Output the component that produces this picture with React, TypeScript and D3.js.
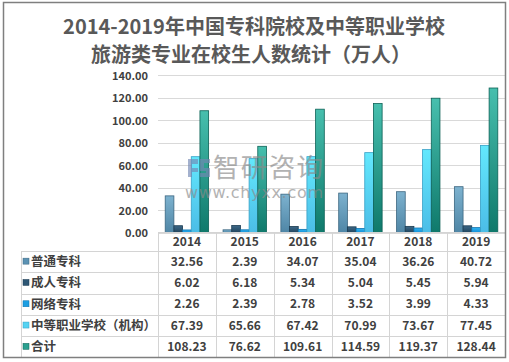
import React, { useEffect, useRef } from 'react';
import * as d3 from 'd3';

// chart data
const years = ['2014', '2015', '2016', '2017', '2018', '2019'];
const seriesNames = ['普通专科', '成人专科', '网络专科', '中等职业学校（机构）', '合计'];
const putong = [32.56, 2.39, 34.07, 35.04, 36.26, 40.72];
const chengren = [6.02, 6.18, 5.34, 5.04, 5.45, 5.94];
const wangluo = [2.26, 2.39, 2.78, 3.52, 3.99, 4.33];
const zhongzhi = [67.39, 65.66, 67.42, 70.99, 73.67, 77.45];
const heji = [108.23, 76.62, 109.61, 114.59, 119.37, 128.44];
const yTicks = [0, 20, 40, 60, 80, 100, 120, 140];

const seriesValues = [putong, chengren, wangluo, zhongzhi, heji];

// top colour, bottom colour, outline, legend key
const palette = [
  ['#7db2cf', '#4f86a6', '#3b6680', '#5b92b3'],
  ['#3d6888', '#22465e', '#1a3a50', '#2d5674'],
  ['#33b4f2', '#1490d6', '#0e72ad', '#1c9ee2'],
  ['#63e8fd', '#4bbde7', '#37a0c6', '#55d3f2'],
  ['#47bfae', '#0f796b', '#0c6156', '#2aa08f'],
];

const W = 509;
const H = 362;
const font = '"Noto Sans CJK SC", "Liberation Sans", sans-serif';

export default function App() {
  const svgRef = useRef<SVGSVGElement>(null);

  useEffect(() => {
    const svg = d3.select(svgRef.current);
    svg.selectAll('*').remove();

    const left = 158;
    const right = 505;
    const tableLeft = 21;
    const y0 = 232.5;

    const x = d3.scaleBand().domain(years).range([left, right]).paddingInner(0).paddingOuter(0);
    const xSub = d3.scaleBand().domain(seriesNames).range([0, x.bandwidth()]).paddingInner(0).paddingOuter(0.83);
    const y = d3.scaleLinear().domain([0, 140]).range([y0, 75]);
    const rowY = d3.scaleBand().domain(seriesNames).range([251, 357.5]);

    // gradients
    const defs = svg.append('defs');
    palette.forEach((p, i) => {
      const g = defs.append('linearGradient')
        .attr('id', 'grad' + i)
        .attr('x1', 0).attr('y1', 0).attr('x2', 0).attr('y2', 1);
      g.append('stop').attr('offset', '0%').attr('stop-color', p[0]);
      g.append('stop').attr('offset', '100%').attr('stop-color', p[1]);
    });

    svg.append('rect').attr('width', W).attr('height', H).attr('fill', '#fff');

    // title
    const title = svg.append('g')
      .attr('font-family', font)
      .attr('font-weight', 'bold')
      .attr('font-size', 20)
      .attr('fill', '#595959')
      .attr('text-anchor', 'middle');
    title.append('text').attr('x', 254).attr('y', 34).text('2014-2019年中国专科院校及中等职业学校');
    title.append('text').attr('x', 251).attr('y', 62).text('旅游类专业在校生人数统计（万人）');

    // gridlines
    svg.append('g')
      .selectAll('line')
      .data(yTicks)
      .join('line')
      .attr('x1', left).attr('x2', right)
      .attr('y1', d => Math.round(y(d)) + 0.5)
      .attr('y2', d => Math.round(y(d)) + 0.5)
      .attr('stroke', '#d9d9d9');

    // y axis labels
    svg.append('g')
      .attr('font-family', font)
      .attr('font-size', 11)
      .attr('font-weight', 'bold')
      .attr('fill', '#404040')
      .attr('text-anchor', 'end')
      .selectAll('text')
      .data(yTicks)
      .join('text')
      .attr('x', 148)
      .attr('y', d => y(d) + 1)
      .attr('dy', '0.35em')
      .text(d => d3.format('.2f')(d));

    // bars
    const groups = svg.append('g')
      .selectAll('g')
      .data(seriesNames)
      .join('g')
      .attr('fill', (d, i) => `url(#grad${i})`)
      .attr('stroke', (d, i) => palette[i][2])
      .attr('stroke-width', 0.8);
    groups.selectAll('rect')
      .data((name, i) => seriesValues[i].map((v, j) => ({ name, v, year: years[j] })))
      .join('rect')
      .attr('x', d => (x(d.year) as number) + (xSub(d.name) as number))
      .attr('y', d => y(d.v))
      .attr('width', xSub.bandwidth())
      .attr('height', d => y0 - y(d.v));

    // watermark
    const wm = svg.append('g').attr('opacity', 0.65);
    wm.append('path')
      .attr('d', 'M188,159h10v5h-6v4h6v4h-6v5h-4z M200,159h10v4h-6v5h6v9h-10v-4h6v-2h-6z')
      .attr('fill', '#7488b4');
    wm.append('text')
      .attr('x', 213).attr('y', 177)
      .attr('font-family', font)
      .attr('font-size', 26.5)
      .attr('fill', '#8a8a8a')
      .attr('textLength', 110)
      .text('智研咨询');
    wm.append('text')
      .attr('x', 185).attr('y', 198)
      .attr('font-family', '"DejaVu Sans", sans-serif')
      .attr('font-size', 16)
      .attr('fill', '#8a8a8a')
      .attr('textLength', 138)
      .attr('lengthAdjust', 'spacing')
      .text('www.chyxx.com');

    // data table
    const table = svg.append('g').attr('stroke', '#d4d4d4').attr('stroke-width', 1);
    table.selectAll('.hline')
      .data(seriesNames)
      .join('line')
      .attr('x1', tableLeft).attr('x2', right)
      .attr('y1', d => Math.round(rowY(d) as number) + 0.5)
      .attr('y2', d => Math.round(rowY(d) as number) + 0.5);
    table.append('line')
      .attr('x1', left).attr('x2', right)
      .attr('y1', y0).attr('y2', y0);
    table.append('line')
      .attr('x1', tableLeft + 0.5).attr('x2', tableLeft + 0.5)
      .attr('y1', 251).attr('y2', 357.5);
    table.selectAll('.vline')
      .data(years.concat(['end']))
      .join('line')
      .attr('x1', d => Math.round(d === 'end' ? right : (x(d) as number)) + 0.5)
      .attr('x2', d => Math.round(d === 'end' ? right : (x(d) as number)) + 0.5)
      .attr('y1', y0).attr('y2', 357.5);

    const txt = svg.append('g')
      .attr('font-family', font)
      .attr('font-size', 12)
      .attr('font-weight', 'bold')
      .attr('fill', '#404040');

    txt.selectAll('.year')
      .data(years)
      .join('text')
      .attr('text-anchor', 'middle')
      .attr('x', d => (x(d) as number) + x.bandwidth() / 2)
      .attr('y', 242)
      .attr('dy', '0.35em')
      .text(d => d);

    seriesNames.forEach((name, i) => {
      const cy = (rowY(name) as number) + rowY.bandwidth() / 2;
      svg.append('rect')
        .attr('x', 23).attr('y', cy - 3.5)
        .attr('width', 6).attr('height', 6)
        .attr('fill', palette[i][3])
        .attr('stroke', palette[i][2])
        .attr('stroke-width', 0.5);
      txt.append('text')
        .attr('x', 31).attr('y', cy).attr('dy', '0.35em')
        .attr('font-size', 12.5)
        .text(name);
      txt.append('g')
        .selectAll('text')
        .data(seriesValues[i])
        .join('text')
        .attr('text-anchor', 'middle')
        .attr('x', (d, j) => (x(years[j]) as number) + x.bandwidth() / 2)
        .attr('y', cy)
        .attr('dy', '0.35em')
        .text(d => d3.format('.2f')(d).replace(/0$/, '').replace(/\.$/, ''));
    });

    // outer border
    svg.append('rect')
      .attr('x', 3.5).attr('y', 2.5)
      .attr('width', 502).attr('height', 355)
      .attr('fill', 'none')
      .attr('stroke', '#7f7f7f')
      .attr('stroke-width', 1.5);
  }, []);

  return (
    <svg ref={svgRef} width={W} height={H} style={{ position: 'absolute', left: 0, top: 0 }}></svg>
  );
}
